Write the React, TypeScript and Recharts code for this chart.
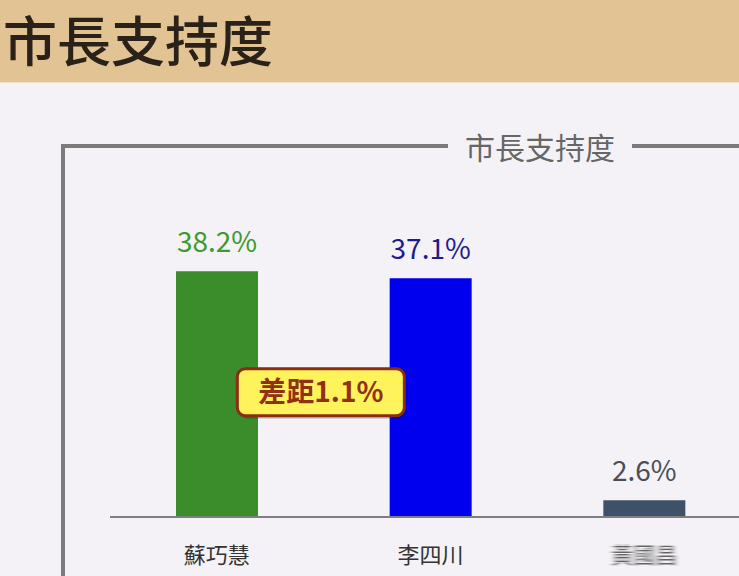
import React from "react";
import { BarChart, Bar, XAxis, YAxis, Cell, LabelList, ReferenceDot } from "recharts";

const candidates = ["蘇巧慧", "李四川", "黃國昌"];
const support = [38.2, 37.1, 2.6];
const barColors = ["#3a8d2a", "#0000ee", "#3f5169"];
const labelColors = ["#3d9a2c", "#1c1c8e", "#474f5a"];
const gapText = "差距1.1%";
const gapValue = 19.4;
const title = "市長支持度";

const data = candidates.map((name, i) => ({ name, value: support[i] }));

const FONT = '"Noto Sans CJK TC", "Noto Sans", sans-serif';

const ValueLabel = (props: any) => {
  const { x, y, width, index, value } = props;
  return (
    <text
      x={x + width / 2}
      y={y - 19}
      textAnchor="middle"
      fill={labelColors[index]}
      fontSize={28}
      fontFamily={FONT}
    >
      {value}%
    </text>
  );
};

const CatTick = (props: any) => {
  const { x, y, payload, index } = props;
  const blurred = index === 2;
  return (
    <text
      x={x}
      y={y + 38}
      textAnchor="middle"
      fill="#333"
      fontSize={22}
      fontFamily={FONT}
      filter={blurred ? "url(#blurX)" : undefined}
      opacity={blurred ? 0.75 : 1}
    >
      {payload.value}
    </text>
  );
};

const GapBox = (props: any) => {
  const { cx, cy } = props;
  const w = 167;
  const h = 47;
  const bx = cx + 104 - w / 2;
  const by = cy - h / 2;
  return (
    <g>
      <rect x={bx + 2} y={by + 3} width={w} height={h} rx={8} fill="#000" opacity={0.18} />
      <rect x={bx} y={by} width={w} height={h} rx={8} fill="#fff35c" stroke="#8a2d12" strokeWidth={3} />
      <text
        x={cx + 104}
        y={cy + 10}
        textAnchor="middle"
        fill="#922f14"
        fontSize={28}
        fontWeight="bold"
        fontFamily={FONT}
      >
        {gapText}
      </text>
    </g>
  );
};

export default function App() {
  return (
    <div
      style={{
        position: "absolute",
        left: 0,
        top: 0,
        width: 739,
        height: 576,
        overflow: "hidden",
        background: "#f4f2f6",
        fontFamily: FONT,
      }}
    >
      <div
        style={{
          position: "absolute",
          left: 0,
          top: 0,
          width: 739,
          height: 82,
          background: "#e1c394",
          borderBottom: "1px solid #efe2c8",
        }}
      >
        <div
          style={{
            position: "absolute",
            left: 3,
            top: 6,
            width: 400,
            height: 66,
            fontSize: 54,
            lineHeight: "66px",
            color: "#2a2118",
            fontFamily: FONT,
            fontWeight: 500,
            whiteSpace: "nowrap",
          }}
        >
          {title}
        </div>
      </div>
      <div style={{ position: "absolute", left: 61, top: 144, width: 387, height: 4, background: "#7b7b7b" }} />
      <div style={{ position: "absolute", left: 61, top: 144, width: 4, height: 440, background: "#7b7b7b" }} />
      <div style={{ position: "absolute", left: 632, top: 144, width: 120, height: 4, background: "#7b7b7b" }} />
      <div
        style={{
          position: "absolute",
          left: 448,
          top: 124,
          width: 184,
          textAlign: "center",
          fontSize: 30,
          lineHeight: "44px",
          color: "#666",
          fontFamily: FONT,
          whiteSpace: "nowrap",
        }}
      >
        {title}
      </div>
      <div style={{ position: "absolute", left: 0, top: 0 }}>
        <svg width={0} height={0} style={{ position: "absolute" }}>
          <defs>
            <filter id="blurX" x="-20%" y="-50%" width="140%" height="200%">
              <feGaussianBlur stdDeviation="2.5 0.6" />
            </filter>
          </defs>
        </svg>
        <BarChart
          width={751}
          height={576}
          data={data}
          margin={{ top: 131, right: 0, bottom: 0, left: 110 }}
          barCategoryGap={0}
        >
          <XAxis
            dataKey="name"
            height={59}
            axisLine={{ stroke: "#7f7f7f", strokeWidth: 2 }}
            tickLine={false}
            tick={<CatTick />}
            interval={0}
          />
          <YAxis hide domain={[0, 60]} />
          <Bar dataKey="value" barSize={82} isAnimationActive={false}>
            {data.map((d, i) => (
              <Cell key={d.name} fill={barColors[i]} />
            ))}
            <LabelList dataKey="value" content={<ValueLabel />} />
          </Bar>
          <ReferenceDot x={candidates[0]} y={gapValue} r={0} shape={<GapBox />} isFront />
        </BarChart>
      </div>
    </div>
  );
}
